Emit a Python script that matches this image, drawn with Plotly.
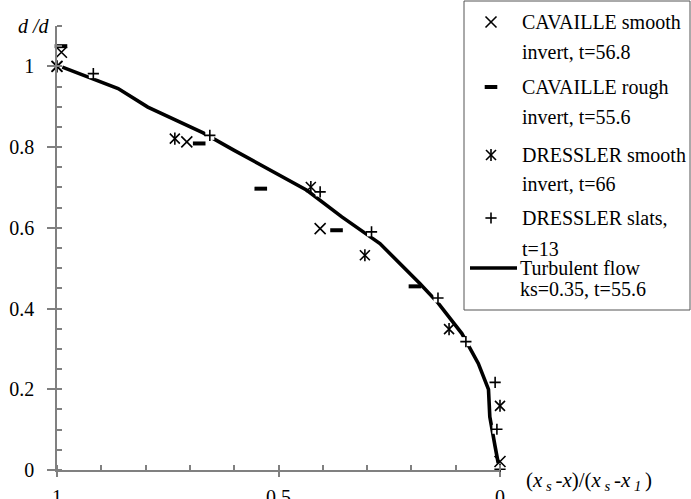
import plotly.graph_objects as go

# ---------------- data ----------------
line_x = [0.988, 0.862, 0.795, 0.670, 0.600, 0.503, 0.436, 0.357, 0.271, 0.181,
          0.139, 0.086, 0.049, 0.026, 0.023, 0.011, 0.004]
line_y = [0.998, 0.945, 0.899, 0.835, 0.792, 0.734, 0.693, 0.627, 0.561, 0.462,
          0.413, 0.338, 0.264, 0.200, 0.132, 0.058, 0.017]

cav_smooth_x = [1.0, 0.990, 0.707, 0.406, 0.0]
cav_smooth_y = [1.0, 1.035, 0.813, 0.598, 0.021]

cav_rough_x = [0.991, 0.679, 0.540, 0.369, 0.192]
cav_rough_y = [1.050, 0.809, 0.697, 0.594, 0.455]

dre_smooth_x = [1.0, 0.734, 0.427, 0.305, 0.115, 0.0]
dre_smooth_y = [1.0, 0.821, 0.701, 0.532, 0.349, 0.159]

dre_slats_x = [0.918, 0.655, 0.406, 0.290, 0.140, 0.077, 0.011, 0.007, 0.0]
dre_slats_y = [0.982, 0.829, 0.689, 0.590, 0.426, 0.318, 0.217, 0.101, 0.002]

x_tick_vals = [0, 0.5, 1]
x_tick_text = ["0", "0.5", "1"]
y_tick_vals = [0, 0.2, 0.4, 0.6, 0.8, 1.0]
y_tick_text = ["0", "0.2", "0.4", "0.6", "0.8", "1"]

legend_lines = [
    ["CAVAILLE smooth", "invert, t=56.8"],
    ["CAVAILLE rough", "invert, t=55.6"],
    ["DRESSLER smooth", "invert, t=66"],
    ["DRESSLER slats,", "t=13"],
    ["Turbulent flow", "ks=0.35, t=55.6"],
]

# ---------------- layout helpers ----------------
W, H = 691, 499
PL, PR, PT, PB = 57, 500, 26, 470
FONT = "Liberation Serif"
GRAY = "#808080"


def px_x(p):
    return (p - PL) / (PR - PL)


def px_y(p):
    return (PB - p) / (PB - PT)


fig = go.Figure()

# turbulent flow line
fig.add_trace(go.Scatter(x=line_x, y=line_y, mode="lines", name="Turbulent flow",
                         line=dict(color="black", width=3.6), cliponaxis=False,
                         showlegend=False))
# white halo behind "+" markers
fig.add_trace(go.Scatter(x=dre_slats_x, y=dre_slats_y, mode="markers",
                         marker=dict(symbol="square", size=9, color="white",
                                     line=dict(width=0)),
                         cliponaxis=False, showlegend=False, hoverinfo="skip"))

mk_line = dict(color="black", width=1.6)
fig.add_trace(go.Scatter(x=cav_smooth_x, y=cav_smooth_y, mode="markers",
                         name="CAVAILLE smooth invert, t=56.8",
                         marker=dict(symbol="x-thin-open", size=11, line=mk_line,
                                     color="black"),
                         cliponaxis=False, showlegend=False))
fig.add_trace(go.Scatter(x=cav_rough_x, y=cav_rough_y, mode="markers",
                         name="CAVAILLE rough invert, t=55.6",
                         marker=dict(symbol="line-ew-open", size=9,
                                     line=dict(color="black", width=4), color="black"),
                         cliponaxis=False, showlegend=False))
fig.add_trace(go.Scatter(x=dre_smooth_x, y=dre_smooth_y, mode="markers",
                         name="DRESSLER smooth invert, t=66",
                         marker=dict(symbol="x-thin-open", size=10, line=mk_line,
                                     color="black"),
                         cliponaxis=False, showlegend=False))
fig.add_trace(go.Scatter(x=dre_smooth_x, y=dre_smooth_y, mode="markers",
                         name="DRESSLER smooth invert, t=66",
                         marker=dict(symbol="line-ns-open", size=8.6, line=mk_line,
                                     color="black"),
                         cliponaxis=False, showlegend=False, hoverinfo="skip"))
fig.add_trace(go.Scatter(x=dre_slats_x, y=dre_slats_y, mode="markers",
                         name="DRESSLER slats, t=13",
                         marker=dict(symbol="cross-thin-open", size=8, line=mk_line,
                                     color="black"),
                         cliponaxis=False, showlegend=False))

# empty trace so the overlay tick axes exist
fig.add_trace(go.Scatter(x=[], y=[], xaxis="x2", yaxis="y2", showlegend=False))

# ---------------- hand-drawn legend ----------------
shapes = [
    dict(type="rect", xref="paper", yref="paper", x0=px_x(464), x1=px_x(690),
         y0=px_y(310), y1=px_y(1), line=dict(color="#555555", width=1),
         fillcolor="rgba(0,0,0,0)", layer="below"),
    dict(type="line", xref="paper", yref="paper", x0=px_x(470), x1=px_x(517),
         y0=px_y(268), y1=px_y(268), line=dict(color="black", width=3.6)),
]


def seg(x0, y0, x1, y1, w=1.6):
    return dict(type="line", xref="paper", yref="paper", x0=px_x(x0), y0=px_y(y0),
                x1=px_x(x1), y1=px_y(y1), line=dict(color="black", width=w))


sx = 491
leg_rows = [(22, 52), (87, 117), (155, 184), (218, 249), (268, 289)]
# X symbol
cy = leg_rows[0][0]
shapes += [seg(sx - 5.5, cy - 5.5, sx + 5.5, cy + 5.5), seg(sx - 5.5, cy + 5.5, sx + 5.5, cy - 5.5)]
# dash symbol
cy = leg_rows[1][0]
shapes += [seg(sx - 6.3, cy, sx + 6.3, cy, 4)]
# asterisk symbol
cy = leg_rows[2][0]
shapes += [seg(sx - 5, cy - 5, sx + 5, cy + 5), seg(sx - 5, cy + 5, sx + 5, cy - 5),
           seg(sx, cy - 6, sx, cy + 6)]
# plus symbol
cy = leg_rows[3][0]
shapes += [seg(sx - 5.6, cy, sx + 5.6, cy), seg(sx, cy - 5.6, sx, cy + 5.6)]

annotations = []
for i, (l1, l2) in enumerate(legend_lines):
    tx = 520 if i < 4 else 518
    for txt, yy in ((l1, leg_rows[i][0]), (l2, leg_rows[i][1])):
        annotations.append(dict(text=txt, xref="paper", yref="paper",
                                x=px_x(tx), y=px_y(yy), xanchor="left",
                                yanchor="middle", showarrow=False,
                                font=dict(family=FONT, size=20, color="black")))

# axis titles
annotations.append(dict(text="<i>d /d</i>", xref="paper", yref="paper",
                        x=px_x(16), y=px_y(26), xanchor="left", yanchor="middle",
                        showarrow=False, font=dict(family=FONT, size=20, color="black")))
annotations.append(dict(
    text="(<i>x</i><sub> <i>s</i> </sub><i>-x</i>)/(<i>x</i><sub> <i>s</i> </sub>"
         "<i>-x</i><sub> <i>1</i> </sub>)",
    xref="paper", yref="paper", x=px_x(524), y=px_y(481), xanchor="left",
    yanchor="middle", showarrow=False,
    font=dict(family=FONT, size=21, color="black")))

fig.update_layout(
    width=W, height=H,
    margin=dict(l=PL, r=W - PR, t=PT, b=H - PB, pad=0, autoexpand=False),
    paper_bgcolor="white", plot_bgcolor="white",
    font=dict(family=FONT, size=20, color="black"),
    showlegend=False,
    xaxis=dict(range=[1, 0], tickvals=x_tick_vals, ticktext=x_tick_text,
               ticks="outside", ticklen=5, tickwidth=1.5, tickcolor=GRAY,
               minor=dict(ticks="inside", dtick=0.1, tick0=0, ticklen=5,
                          tickwidth=1.5, tickcolor=GRAY),
               showline=True, linecolor=GRAY, linewidth=1.5, automargin=False,
               showgrid=False, zeroline=False, ticklabelstandoff=3,
               tickfont=dict(family=FONT, size=20, color="black")),
    yaxis=dict(range=[0, 1.1], tickvals=y_tick_vals, ticktext=y_tick_text,
               ticks="outside", ticklen=8, tickwidth=1.5, tickcolor=GRAY,
               minor=dict(ticks="inside", dtick=0.05, tick0=0, ticklen=5,
                          tickwidth=1.5, tickcolor=GRAY),
               showline=True, linecolor=GRAY, linewidth=1.5, automargin=False,
               showgrid=False, zeroline=False, ticklabelstandoff=9,
               tickfont=dict(family=FONT, size=20, color="black")),
    xaxis2=dict(overlaying="x", anchor="y2", range=[1, 0], tickvals=x_tick_vals,
                ticks="inside", ticklen=5, tickwidth=1.5, tickcolor=GRAY,
                showticklabels=False, showline=False, showgrid=False, zeroline=False,
                automargin=False),
    yaxis2=dict(overlaying="y", anchor="x2", range=[0, 1.1], tickvals=y_tick_vals,
                ticks="inside", ticklen=4, tickwidth=1.5, tickcolor=GRAY,
                showticklabels=False, showline=False, showgrid=False, zeroline=False,
                automargin=False),
    annotations=annotations,
    shapes=shapes,
)

fig.write_html("out.html")
